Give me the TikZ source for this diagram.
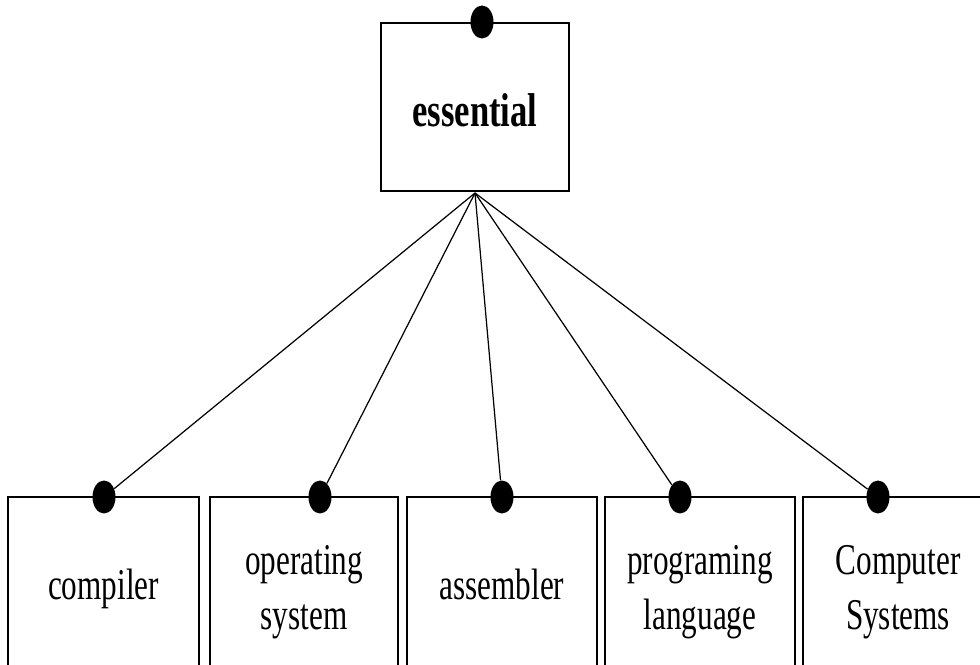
\documentclass[tikz,border=0pt]{standalone}
\usepackage{fontspec}
\setmainfont{Liberation Serif}[FakeStretch=0.71,BoldFeatures={FakeStretch=0.73}]
\usetikzlibrary{shapes.geometric}

\begin{document}
\begin{tikzpicture}[
    x=0.02cm, y=-0.02cm,
    box/.style={draw, line width=1.1pt, minimum width=3.8cm, minimum height=3.48cm, align=center, font=\fontsize{25}{31.3}\selectfont},
    oneline/.style={text height=0.62cm, text depth=0pt},
    twoline/.style={minimum height=3.8cm},
    dot/.style={ellipse, fill=black, inner sep=0pt, minimum width=0.46cm, minimum height=0.66cm},
    link/.style={line width=0.7pt}
]
\clip (0,0) rectangle (980,665);
\node[box, minimum width=3.76cm, minimum height=3.36cm, text height=0.8cm, text depth=0pt, font=\fontsize{27}{31}\selectfont\bfseries] (E) at (475,107) {essential};
\node[box, oneline, minimum width=3.82cm] (C) at (103.5,584) {compiler};
\node[box, twoline, minimum width=3.76cm] (O) at (304,592) {operating\\system};
\node[box, oneline] (A) at (502,584) {assembler};
\node[box, twoline] (P) at (700,592) {programing\\language};
\node[box, twoline] (S) at (898,592) {Computer\\Systems};

% hub under the top box
\coordinate (hub) at (475,193);

% dots on the box tops
\node[dot] (dE) at (482,22) {};
\node[dot] (dC) at (104,497) {};
\node[dot] (dO) at (320,497) {};
\node[dot] (dA) at (502,497) {};
\node[dot] (dP) at (680,497) {};
\node[dot] (dS) at (878,497) {};

\draw[link] (hub) -- (dC);
\draw[link] (hub) -- (dO);
\draw[link] (hub) -- (dA);
\draw[link] (hub) -- (dP);
\draw[link] (hub) -- (dS);
\end{tikzpicture}
\end{document}
